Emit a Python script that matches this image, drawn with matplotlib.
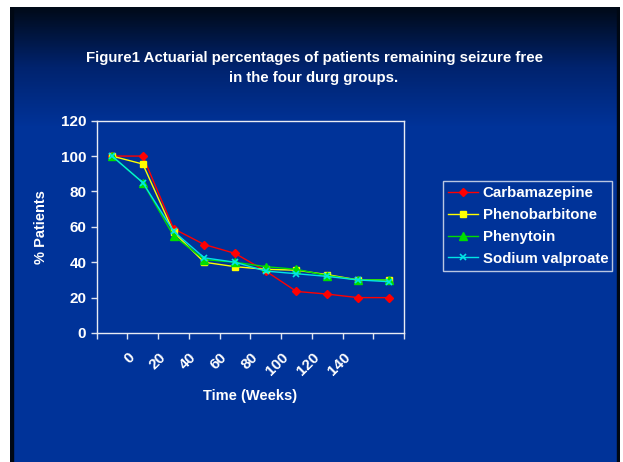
import numpy as np
import matplotlib
matplotlib.use('Agg')
import matplotlib.pyplot as plt
from matplotlib.colors import LinearSegmentedColormap

plt.rcParams['font.family'] = ['Liberation Sans', 'DejaVu Sans']
plt.rcParams['font.weight'] = 'bold'

# данные
week_labels = ['', '0', '20', '40', '60', '80', '100', '120', '140', '']
carbamazepine = [100, 100, 59, 50, 45, 35, 23.5, 22, 20, 20]
phenobarbitone = [100, 95.5, 57, 40, 37.5, 36, 35.5, 33, 30, 30]
phenytoin = [100, 85, 55, 41.5, 40, 37.5, 36, 32.5, 30, 30]
valproate = [100, 85, 57.5, 42.5, 40, 35, 33.5, 32, 30, 29]

W, H = 623, 462
fig = plt.figure(figsize=(W / 100, H / 100), dpi=100)
fig.patch.set_facecolor('white')

# фон слайда: градиент от почти чёрного к синему
bg = fig.add_axes([10 / W, 0, 610 / W, 455 / H])
bg.set_axis_off()
grad = np.concatenate([np.linspace(0, 1, 120), np.ones(335)])[::-1].reshape(-1, 1)
cmap = LinearSegmentedColormap.from_list('slide', ['#000a18', '#00236e', '#003399'])
bg.imshow(grad, aspect='auto', cmap=cmap, extent=[0, 1, 0, 1], origin='lower')
bg.set_xlim(0, 1)
bg.set_ylim(0, 1)
bg.axvspan(0, 3 / 610, color='#000814')
bg.axvspan(607 / 610, 1, color='#000814')

ax = fig.add_axes([96.7 / W, 1 - 333 / H, (404 - 96.7) / W, (333 - 120.7) / H])
ax.patch.set_alpha(0)

x = np.arange(len(week_labels))
ax.plot(x, carbamazepine, color='#ff0000', marker='D', markersize=4.5, lw=1, label='Carbamazepine')
ax.plot(x, phenobarbitone, color='#ffff00', marker='s', markersize=5, lw=1, label='Phenobarbitone')
ax.plot(x, phenytoin, color='#00dd00', marker='^', markersize=5.5, lw=1, label='Phenytoin')
ax.plot(x, valproate, color='#00e5e5', marker='x', markersize=5, mew=1.2, lw=1, label='Sodium valproate')

ax.set_xlim(-0.5, 9.5)
ax.set_ylim(0, 120)
ax.set_yticks(range(0, 121, 20))
ax.set_xticks(np.arange(-0.5, 10, 1))
ax.set_xticklabels([])
ax.set_xticks(x[1:9] - 0.33, week_labels[1:9], minor=True)
ax.tick_params(axis='x', which='minor', length=0, pad=16)
for lbl in ax.get_xticklabels(minor=True):
    lbl.set_rotation(45)
    lbl.set_ha('right')
    lbl.set_va('center')
    lbl.set_rotation_mode('anchor')

ax.tick_params(which='major', colors='#dde4f0', length=4, width=1, direction='out')
ax.tick_params(which='both', labelcolor='white', labelsize=11)
for s in ax.spines.values():
    s.set_color('#e8ecf4')
    s.set_linewidth(1)

ax.set_xlabel('Time (Weeks)', color='white', fontsize=10.5, fontweight='bold', labelpad=8)
ax.set_ylabel('% Patients', color='white', fontsize=10.5, fontweight='bold', labelpad=9)

fig.text(314 / W, 1 - 58 / H, 'Figure1 Actuarial percentages of patients remaining seizure free',
         color='white', fontsize=10.8, fontweight='bold', ha='center', va='center')
fig.text(314 / W, 1 - 78 / H, 'in the four durg groups.',
         color='white', fontsize=10.8, fontweight='bold', ha='center', va='center')

leg = ax.legend(loc='center left', bbox_to_anchor=(443 / W, 1 - 270 / H, 169 / W, 88 / H),
                bbox_transform=fig.transFigure, mode='expand', frameon=True, fancybox=False,
                fontsize=10.8, handlelength=2.0, handletextpad=0.3, borderpad=0.35,
                labelspacing=0.52, borderaxespad=0)
leg.get_frame().set_facecolor('none')
leg.get_frame().set_edgecolor('#e8ecf4')
leg.get_frame().set_linewidth(1)
for t in leg.get_texts():
    t.set_color('white')

fig.savefig('out.png', dpi=100)
